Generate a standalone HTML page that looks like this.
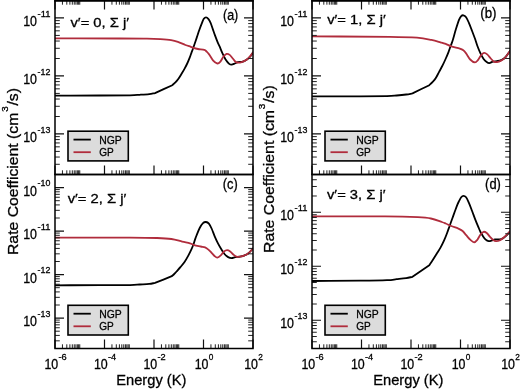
<!DOCTYPE html><html><head><meta charset="utf-8"><style>html,body{margin:0;padding:0;background:#fff;}svg{display:block;will-change:transform;}</style></head><body>
<svg width="520" height="389" viewBox="0 0 520 389" font-family='"Liberation Sans", sans-serif'>
<style>text{stroke:#000;stroke-width:0.3px;paint-order:stroke;}</style>
<rect x="0" y="0" width="520" height="389" fill="#fff"/>
<clipPath id="cpa"><rect x="55" y="0.5" width="198" height="174.0"/></clipPath>
<clipPath id="cpb"><rect x="312" y="0.5" width="198" height="174.0"/></clipPath>
<clipPath id="cpc"><rect x="55" y="174.5" width="198" height="174.0"/></clipPath>
<clipPath id="cpd"><rect x="312" y="174.5" width="198" height="174.0"/></clipPath>
<g clip-path="url(#cpa)" fill="none" stroke-width="1.8" stroke-linejoin="round" stroke-linecap="round">
<path d="M55.00,95.60 C70.00,95.57 87.50,95.55 100.00,95.50 C112.50,95.45 123.40,95.42 130.00,95.30 C136.60,95.18 136.40,95.00 139.60,94.80 C142.80,94.60 146.63,94.38 149.20,94.10 C151.77,93.82 153.07,93.43 155.00,93.10 C160.77,90.47 166.53,87.83 172.30,85.20 C173.33,84.27 174.38,83.48 175.40,82.40 C176.43,81.33 177.42,80.18 178.45,78.75 C179.48,77.32 180.55,75.52 181.60,73.80 C182.65,72.08 183.78,70.20 184.75,68.40 C185.72,66.60 186.62,64.80 187.45,63.00 C188.27,61.20 189.02,59.33 189.70,57.60 C190.38,55.88 190.90,54.30 191.50,52.65 C192.10,51.00 192.45,50.12 193.30,47.70 C194.15,45.28 195.60,41.05 196.60,38.10 C197.60,35.15 198.40,32.55 199.30,30.00 C200.20,27.45 201.25,24.67 202.00,22.80 C202.75,20.93 203.13,19.70 203.80,18.80 C204.47,17.90 205.25,17.40 206.00,17.40 C206.75,17.40 207.53,17.90 208.30,18.80 C209.07,19.70 209.85,21.08 210.60,22.80 C211.35,24.52 212.07,27.00 212.80,29.10 C213.53,31.20 214.17,33.15 215.00,35.40 C215.83,37.65 217.03,40.77 217.80,42.60 C218.57,44.43 218.82,44.60 219.60,46.40 C220.38,48.20 221.50,51.22 222.50,53.40 C223.50,55.58 224.48,57.75 225.60,59.50 C226.72,61.25 228.18,63.03 229.20,63.90 C230.22,64.77 230.77,64.77 231.70,64.70 C232.63,64.63 233.77,63.93 234.80,63.50 C235.83,63.07 236.70,62.38 237.90,62.10 C239.10,61.82 240.62,62.15 242.00,61.80 C243.38,61.45 244.82,60.88 246.20,60.00 C247.58,59.12 249.17,57.75 250.30,56.50 C251.43,55.25 252.10,53.83 253.00,52.50" stroke="#000"/>
<path d="M55.00,38.30 C76.67,38.37 104.68,38.43 120.00,38.50 C135.32,38.57 140.17,38.58 146.90,38.70 C153.63,38.82 156.37,38.97 160.40,39.20 C164.43,39.43 168.18,39.67 171.10,40.10 C174.02,40.53 175.52,40.98 177.90,41.80 C180.28,42.62 183.25,44.17 185.40,45.00 C187.55,45.83 189.45,46.32 190.80,46.80 C192.15,47.28 192.30,47.53 193.50,47.90 C194.70,48.27 196.20,48.68 198.00,49.00 C199.80,49.32 202.88,49.38 204.30,49.80 C205.72,50.22 205.70,50.73 206.50,51.50 C207.30,52.27 207.98,52.88 209.10,54.40 C210.22,55.92 211.83,59.08 213.20,60.60 C214.57,62.12 216.10,63.33 217.30,63.50 C218.50,63.67 219.37,62.77 220.40,61.60 C221.43,60.43 222.47,57.78 223.50,56.50 C224.53,55.22 225.57,54.17 226.60,53.90 C227.63,53.63 228.67,54.13 229.70,54.90 C230.73,55.67 231.77,57.30 232.80,58.50 C233.83,59.70 234.70,61.42 235.90,62.10 C237.10,62.78 238.63,62.77 240.00,62.60 C241.37,62.43 242.73,61.78 244.10,61.10 C245.47,60.42 246.72,59.93 248.20,58.50 C249.68,57.07 251.40,54.50 253.00,52.50" stroke="#b02c3c"/>
</g>
<g clip-path="url(#cpb)" fill="none" stroke-width="1.8" stroke-linejoin="round" stroke-linecap="round">
<path d="M312.00,96.40 C328.00,96.37 347.50,96.35 360.00,96.30 C372.50,96.25 380.90,96.23 387.00,96.10 C393.10,95.97 393.40,95.77 396.60,95.50 C399.80,95.23 403.55,94.85 406.20,94.50 C408.85,94.15 410.40,93.77 412.50,93.40 C418.10,90.67 423.70,87.93 429.30,85.20 C430.33,84.20 431.37,83.30 432.40,82.20 C433.43,81.10 434.38,80.32 435.50,78.60 C436.62,76.88 437.90,74.13 439.10,71.90 C440.30,69.67 441.58,67.43 442.70,65.20 C443.82,62.97 444.85,60.65 445.80,58.50 C446.75,56.35 447.63,54.27 448.40,52.30 C449.17,50.33 449.72,48.58 450.40,46.70 C451.08,44.82 451.60,43.85 452.50,41.00 C453.40,38.15 454.72,33.12 455.80,29.60 C456.88,26.08 458.10,22.15 459.00,19.90 C459.90,17.65 460.47,16.87 461.20,16.10 C461.93,15.33 462.58,15.12 463.40,15.30 C464.22,15.48 465.20,15.98 466.10,17.20 C467.00,18.42 467.82,20.35 468.80,22.60 C469.78,24.85 470.93,27.92 472.00,30.70 C473.07,33.48 474.27,36.67 475.20,39.30 C476.13,41.93 476.72,44.15 477.60,46.50 C478.48,48.85 479.50,51.32 480.50,53.40 C481.50,55.48 482.57,57.55 483.60,59.00 C484.63,60.45 485.75,61.42 486.70,62.10 C487.65,62.78 488.27,63.18 489.30,63.10 C490.33,63.02 491.62,61.93 492.90,61.60 C494.18,61.27 495.63,61.35 497.00,61.10 C498.37,60.85 499.73,60.70 501.10,60.10 C502.47,59.50 503.72,59.02 505.20,57.50 C506.68,55.98 508.40,53.17 510.00,51.00" stroke="#000"/>
<path d="M312.00,36.40 C338.00,36.53 372.50,36.58 390.00,36.80 C407.50,37.02 410.10,37.18 417.00,37.70 C423.90,38.22 427.48,39.13 431.40,39.90 C435.32,40.67 438.12,41.63 440.50,42.30 C442.88,42.97 443.90,43.22 445.70,43.90 C447.50,44.58 448.95,45.62 451.30,46.40 C453.65,47.18 457.80,47.95 459.80,48.60 C461.80,49.25 462.25,49.50 463.30,50.30 C464.35,51.10 464.95,51.87 466.10,53.40 C467.25,54.93 468.73,58.00 470.20,59.50 C471.67,61.00 473.62,62.30 474.90,62.40 C476.18,62.50 476.88,61.27 477.90,60.10 C478.92,58.93 479.97,56.60 481.00,55.40 C482.03,54.20 483.07,53.07 484.10,52.90 C485.13,52.73 486.08,53.47 487.20,54.40 C488.32,55.33 489.68,57.30 490.80,58.50 C491.92,59.70 492.87,61.00 493.90,61.60 C494.93,62.20 495.80,62.27 497.00,62.10 C498.20,61.93 499.73,61.37 501.10,60.60 C502.47,59.83 503.72,59.10 505.20,57.50 C506.68,55.90 508.40,53.17 510.00,51.00" stroke="#b02c3c"/>
</g>
<g clip-path="url(#cpc)" fill="none" stroke-width="1.8" stroke-linejoin="round" stroke-linecap="round">
<path d="M55.00,285.30 C70.00,285.27 87.50,285.23 100.00,285.20 C112.50,285.17 123.40,285.22 130.00,285.10 C136.60,284.98 136.40,284.70 139.60,284.50 C142.80,284.30 146.63,284.17 149.20,283.90 C151.77,283.63 153.07,283.23 155.00,282.90 C160.60,280.67 166.20,278.43 171.80,276.20 C172.60,275.47 173.42,274.78 174.20,274.00 C174.98,273.22 175.43,272.68 176.50,271.50 C177.57,270.32 179.23,268.53 180.60,266.90 C181.97,265.27 183.42,263.58 184.70,261.70 C185.98,259.82 187.18,257.65 188.30,255.60 C189.42,253.55 190.53,251.28 191.40,249.40 C192.27,247.52 192.90,245.93 193.50,244.30 C194.10,242.67 194.50,241.07 195.00,239.60 C195.50,238.13 195.72,237.43 196.50,235.50 C197.28,233.57 198.62,230.07 199.70,228.00 C200.78,225.93 201.95,224.10 203.00,223.10 C204.05,222.10 205.02,221.92 206.00,222.00 C206.98,222.08 207.97,222.52 208.90,223.60 C209.83,224.68 210.62,226.33 211.60,228.50 C212.58,230.67 213.72,234.08 214.80,236.60 C215.88,239.12 216.98,241.45 218.10,243.60 C219.22,245.75 220.43,247.77 221.50,249.50 C222.57,251.23 223.40,252.73 224.50,254.00 C225.60,255.27 226.90,256.42 228.10,257.10 C229.30,257.78 230.50,258.10 231.70,258.10 C232.90,258.10 233.92,257.35 235.30,257.10 C236.68,256.85 238.53,256.85 240.00,256.60 C241.47,256.35 242.73,256.12 244.10,255.60 C245.47,255.08 246.72,254.68 248.20,253.50 C249.68,252.32 251.40,250.17 253.00,248.50" stroke="#000"/>
<path d="M55.00,237.60 C80.00,237.60 113.00,237.53 130.00,237.60 C147.00,237.67 150.10,237.77 157.00,238.00 C163.90,238.23 167.20,238.40 171.40,239.00 C175.60,239.60 179.10,240.88 182.20,241.60 C185.30,242.32 187.98,242.70 190.00,243.30 C192.02,243.90 192.50,244.67 194.30,245.20 C196.10,245.73 199.00,246.13 200.80,246.50 C202.60,246.87 203.83,246.88 205.10,247.40 C206.37,247.92 207.32,248.70 208.40,249.60 C209.48,250.50 210.58,251.73 211.60,252.80 C212.62,253.87 213.55,255.20 214.50,256.00 C215.45,256.80 216.22,257.75 217.30,257.60 C218.38,257.45 219.88,256.12 221.00,255.10 C222.12,254.08 222.98,252.32 224.00,251.50 C225.02,250.68 226.07,250.20 227.10,250.20 C228.13,250.20 229.17,250.78 230.20,251.50 C231.23,252.22 232.27,253.65 233.30,254.50 C234.33,255.35 235.28,256.25 236.40,256.60 C237.52,256.95 238.72,256.77 240.00,256.60 C241.28,256.43 242.73,256.12 244.10,255.60 C245.47,255.08 246.72,254.68 248.20,253.50 C249.68,252.32 251.40,250.17 253.00,248.50" stroke="#b02c3c"/>
</g>
<g clip-path="url(#cpd)" fill="none" stroke-width="1.8" stroke-linejoin="round" stroke-linecap="round">
<path d="M312.00,281.00 C328.00,280.90 347.50,280.83 360.00,280.70 C372.50,280.57 380.90,280.45 387.00,280.20 C393.10,279.95 393.40,279.55 396.60,279.20 C399.80,278.85 403.55,278.50 406.20,278.10 C408.85,277.70 410.40,277.23 412.50,276.80 C418.10,272.97 423.70,269.13 429.30,265.30 C430.40,263.63 431.35,262.25 432.60,260.30 C433.85,258.35 435.48,255.72 436.80,253.60 C438.12,251.48 439.28,249.80 440.50,247.60 C441.72,245.40 443.00,242.83 444.10,240.40 C445.20,237.97 446.17,235.45 447.10,233.00 C448.03,230.55 448.83,228.12 449.70,225.70 C450.57,223.28 451.43,220.90 452.30,218.50 C453.17,216.10 454.05,213.62 454.90,211.30 C455.75,208.98 456.72,206.28 457.40,204.60 C458.08,202.92 458.37,202.43 459.00,201.20 C459.63,199.97 460.47,198.10 461.20,197.20 C461.93,196.30 462.58,195.80 463.40,195.80 C464.22,195.80 465.20,196.07 466.10,197.20 C467.00,198.33 467.82,200.35 468.80,202.60 C469.78,204.85 470.93,207.92 472.00,210.70 C473.07,213.48 474.12,216.52 475.20,219.30 C476.28,222.08 477.62,225.28 478.50,227.40 C479.38,229.52 479.82,230.63 480.50,232.00 C481.18,233.37 481.73,234.32 482.60,235.60 C483.47,236.88 484.68,238.77 485.70,239.70 C486.72,240.63 487.68,241.07 488.70,241.20 C489.72,241.33 490.77,240.78 491.80,240.50 C492.83,240.22 493.87,239.67 494.90,239.50 C495.93,239.33 496.97,239.55 498.00,239.50 C499.03,239.45 499.90,239.68 501.10,239.20 C502.30,238.72 503.72,237.88 505.20,236.60 C506.68,235.32 508.40,233.20 510.00,231.50" stroke="#000"/>
<path d="M312.00,216.40 C336.33,216.40 367.37,216.27 385.00,216.40 C402.63,216.53 410.15,216.85 417.80,217.20 C425.45,217.55 426.90,217.70 430.90,218.50 C434.90,219.30 439.33,221.17 441.80,222.00 C444.27,222.83 444.12,222.83 445.70,223.50 C447.28,224.17 449.18,225.15 451.30,226.00 C453.42,226.85 456.52,227.77 458.40,228.60 C460.28,229.43 461.30,229.90 462.60,231.00 C463.90,232.10 464.93,233.75 466.20,235.20 C467.47,236.65 468.88,238.52 470.20,239.70 C471.52,240.88 472.90,242.30 474.10,242.30 C475.30,242.30 476.33,241.00 477.40,239.70 C478.47,238.40 479.47,235.82 480.50,234.50 C481.53,233.18 482.57,232.05 483.60,231.80 C484.63,231.55 485.67,232.20 486.70,233.00 C487.73,233.80 488.77,235.48 489.80,236.60 C490.83,237.72 491.87,238.93 492.90,239.70 C493.93,240.47 494.80,241.12 496.00,241.20 C497.20,241.28 498.73,240.88 500.10,240.20 C501.47,239.52 502.55,238.55 504.20,237.10 C505.85,235.65 508.07,233.37 510.00,231.50" stroke="#b02c3c"/>
</g>
<path d="M55.00,174.5V165.5 M55.00,0.5V9.5 M104.50,174.5V165.5 M104.50,0.5V9.5 M154.00,174.5V165.5 M154.00,0.5V9.5 M203.50,174.5V165.5 M203.50,0.5V9.5 M253.00,174.5V165.5 M253.00,0.5V9.5 M55,133.96H64 M253,133.96H244 M55,75.96H64 M253,75.96H244 M55,17.96H64 M253,17.96H244 M312.00,174.5V165.5 M312.00,0.5V9.5 M361.50,174.5V165.5 M361.50,0.5V9.5 M411.00,174.5V165.5 M411.00,0.5V9.5 M460.50,174.5V165.5 M460.50,0.5V9.5 M510.00,174.5V165.5 M510.00,0.5V9.5 M312,133.96H321 M510,133.96H501 M312,75.96H321 M510,75.96H501 M312,17.96H321 M510,17.96H501 M55.00,348.5V339.5 M104.50,348.5V339.5 M154.00,348.5V339.5 M203.50,348.5V339.5 M253.00,348.5V339.5 M55,318.09H64 M253,318.09H244 M55,274.59H64 M253,274.59H244 M55,231.09H64 M253,231.09H244 M55,187.59H64 M253,187.59H244 M312.00,348.5V339.5 M361.50,348.5V339.5 M411.00,348.5V339.5 M460.50,348.5V339.5 M510.00,348.5V339.5 M312,320.26H321 M510,320.26H501 M312,266.26H321 M510,266.26H501 M312,212.25H321 M510,212.25H501" stroke="#111" stroke-width="1.2" fill="none"/>
<path d="M62.45,174.5V170.3 M62.45,0.5V4.7 M66.81,174.5V170.3 M66.81,0.5V4.7 M69.90,174.5V170.3 M69.90,0.5V4.7 M72.30,174.5V170.3 M72.30,0.5V4.7 M74.26,174.5V170.3 M74.26,0.5V4.7 M75.92,174.5V170.3 M75.92,0.5V4.7 M77.35,174.5V170.3 M77.35,0.5V4.7 M78.62,174.5V170.3 M78.62,0.5V4.7 M79.75,174.5V170.3 M79.75,0.5V4.7 M111.95,174.5V170.3 M111.95,0.5V4.7 M116.31,174.5V170.3 M116.31,0.5V4.7 M119.40,174.5V170.3 M119.40,0.5V4.7 M121.80,174.5V170.3 M121.80,0.5V4.7 M123.76,174.5V170.3 M123.76,0.5V4.7 M125.42,174.5V170.3 M125.42,0.5V4.7 M126.85,174.5V170.3 M126.85,0.5V4.7 M128.12,174.5V170.3 M128.12,0.5V4.7 M129.25,174.5V170.3 M129.25,0.5V4.7 M161.45,174.5V170.3 M161.45,0.5V4.7 M165.81,174.5V170.3 M165.81,0.5V4.7 M168.90,174.5V170.3 M168.90,0.5V4.7 M171.30,174.5V170.3 M171.30,0.5V4.7 M173.26,174.5V170.3 M173.26,0.5V4.7 M174.92,174.5V170.3 M174.92,0.5V4.7 M176.35,174.5V170.3 M176.35,0.5V4.7 M177.62,174.5V170.3 M177.62,0.5V4.7 M178.75,174.5V170.3 M178.75,0.5V4.7 M210.95,174.5V170.3 M210.95,0.5V4.7 M215.31,174.5V170.3 M215.31,0.5V4.7 M218.40,174.5V170.3 M218.40,0.5V4.7 M220.80,174.5V170.3 M220.80,0.5V4.7 M222.76,174.5V170.3 M222.76,0.5V4.7 M224.42,174.5V170.3 M224.42,0.5V4.7 M225.85,174.5V170.3 M225.85,0.5V4.7 M227.12,174.5V170.3 M227.12,0.5V4.7 M228.25,174.5V170.3 M228.25,0.5V4.7 M55,174.50H59.8 M253,174.50H248.2 M55,164.29H59.8 M253,164.29H248.2 M55,157.04H59.8 M253,157.04H248.2 M55,151.42H59.8 M253,151.42H248.2 M55,146.83H59.8 M253,146.83H248.2 M55,142.94H59.8 M253,142.94H248.2 M55,139.58H59.8 M253,139.58H248.2 M55,136.61H59.8 M253,136.61H248.2 M55,116.50H59.8 M253,116.50H248.2 M55,106.29H59.8 M253,106.29H248.2 M55,99.04H59.8 M253,99.04H248.2 M55,93.42H59.8 M253,93.42H248.2 M55,88.83H59.8 M253,88.83H248.2 M55,84.94H59.8 M253,84.94H248.2 M55,81.58H59.8 M253,81.58H248.2 M55,78.61H59.8 M253,78.61H248.2 M55,58.50H59.8 M253,58.50H248.2 M55,48.29H59.8 M253,48.29H248.2 M55,41.04H59.8 M253,41.04H248.2 M55,35.42H59.8 M253,35.42H248.2 M55,30.83H59.8 M253,30.83H248.2 M55,26.94H59.8 M253,26.94H248.2 M55,23.58H59.8 M253,23.58H248.2 M55,20.61H59.8 M253,20.61H248.2 M55,0.50H59.8 M253,0.50H248.2 M319.45,174.5V170.3 M319.45,0.5V4.7 M323.81,174.5V170.3 M323.81,0.5V4.7 M326.90,174.5V170.3 M326.90,0.5V4.7 M329.30,174.5V170.3 M329.30,0.5V4.7 M331.26,174.5V170.3 M331.26,0.5V4.7 M332.92,174.5V170.3 M332.92,0.5V4.7 M334.35,174.5V170.3 M334.35,0.5V4.7 M335.62,174.5V170.3 M335.62,0.5V4.7 M336.75,174.5V170.3 M336.75,0.5V4.7 M368.95,174.5V170.3 M368.95,0.5V4.7 M373.31,174.5V170.3 M373.31,0.5V4.7 M376.40,174.5V170.3 M376.40,0.5V4.7 M378.80,174.5V170.3 M378.80,0.5V4.7 M380.76,174.5V170.3 M380.76,0.5V4.7 M382.42,174.5V170.3 M382.42,0.5V4.7 M383.85,174.5V170.3 M383.85,0.5V4.7 M385.12,174.5V170.3 M385.12,0.5V4.7 M386.25,174.5V170.3 M386.25,0.5V4.7 M418.45,174.5V170.3 M418.45,0.5V4.7 M422.81,174.5V170.3 M422.81,0.5V4.7 M425.90,174.5V170.3 M425.90,0.5V4.7 M428.30,174.5V170.3 M428.30,0.5V4.7 M430.26,174.5V170.3 M430.26,0.5V4.7 M431.92,174.5V170.3 M431.92,0.5V4.7 M433.35,174.5V170.3 M433.35,0.5V4.7 M434.62,174.5V170.3 M434.62,0.5V4.7 M435.75,174.5V170.3 M435.75,0.5V4.7 M467.95,174.5V170.3 M467.95,0.5V4.7 M472.31,174.5V170.3 M472.31,0.5V4.7 M475.40,174.5V170.3 M475.40,0.5V4.7 M477.80,174.5V170.3 M477.80,0.5V4.7 M479.76,174.5V170.3 M479.76,0.5V4.7 M481.42,174.5V170.3 M481.42,0.5V4.7 M482.85,174.5V170.3 M482.85,0.5V4.7 M484.12,174.5V170.3 M484.12,0.5V4.7 M485.25,174.5V170.3 M485.25,0.5V4.7 M312,174.50H316.8 M510,174.50H505.2 M312,164.29H316.8 M510,164.29H505.2 M312,157.04H316.8 M510,157.04H505.2 M312,151.42H316.8 M510,151.42H505.2 M312,146.83H316.8 M510,146.83H505.2 M312,142.94H316.8 M510,142.94H505.2 M312,139.58H316.8 M510,139.58H505.2 M312,136.61H316.8 M510,136.61H505.2 M312,116.50H316.8 M510,116.50H505.2 M312,106.29H316.8 M510,106.29H505.2 M312,99.04H316.8 M510,99.04H505.2 M312,93.42H316.8 M510,93.42H505.2 M312,88.83H316.8 M510,88.83H505.2 M312,84.94H316.8 M510,84.94H505.2 M312,81.58H316.8 M510,81.58H505.2 M312,78.61H316.8 M510,78.61H505.2 M312,58.50H316.8 M510,58.50H505.2 M312,48.29H316.8 M510,48.29H505.2 M312,41.04H316.8 M510,41.04H505.2 M312,35.42H316.8 M510,35.42H505.2 M312,30.83H316.8 M510,30.83H505.2 M312,26.94H316.8 M510,26.94H505.2 M312,23.58H316.8 M510,23.58H505.2 M312,20.61H316.8 M510,20.61H505.2 M312,0.50H316.8 M510,0.50H505.2 M62.45,348.5V344.3 M66.81,348.5V344.3 M69.90,348.5V344.3 M72.30,348.5V344.3 M74.26,348.5V344.3 M75.92,348.5V344.3 M77.35,348.5V344.3 M78.62,348.5V344.3 M79.75,348.5V344.3 M111.95,348.5V344.3 M116.31,348.5V344.3 M119.40,348.5V344.3 M121.80,348.5V344.3 M123.76,348.5V344.3 M125.42,348.5V344.3 M126.85,348.5V344.3 M128.12,348.5V344.3 M129.25,348.5V344.3 M161.45,348.5V344.3 M165.81,348.5V344.3 M168.90,348.5V344.3 M171.30,348.5V344.3 M173.26,348.5V344.3 M174.92,348.5V344.3 M176.35,348.5V344.3 M177.62,348.5V344.3 M178.75,348.5V344.3 M210.95,348.5V344.3 M215.31,348.5V344.3 M218.40,348.5V344.3 M220.80,348.5V344.3 M222.76,348.5V344.3 M224.42,348.5V344.3 M225.85,348.5V344.3 M227.12,348.5V344.3 M228.25,348.5V344.3 M55,348.50H59.8 M253,348.50H248.2 M55,340.84H59.8 M253,340.84H248.2 M55,335.41H59.8 M253,335.41H248.2 M55,331.19H59.8 M253,331.19H248.2 M55,327.75H59.8 M253,327.75H248.2 M55,324.83H59.8 M253,324.83H248.2 M55,322.31H59.8 M253,322.31H248.2 M55,320.09H59.8 M253,320.09H248.2 M55,305.00H59.8 M253,305.00H248.2 M55,297.34H59.8 M253,297.34H248.2 M55,291.91H59.8 M253,291.91H248.2 M55,287.69H59.8 M253,287.69H248.2 M55,284.25H59.8 M253,284.25H248.2 M55,281.33H59.8 M253,281.33H248.2 M55,278.81H59.8 M253,278.81H248.2 M55,276.59H59.8 M253,276.59H248.2 M55,261.50H59.8 M253,261.50H248.2 M55,253.84H59.8 M253,253.84H248.2 M55,248.41H59.8 M253,248.41H248.2 M55,244.19H59.8 M253,244.19H248.2 M55,240.75H59.8 M253,240.75H248.2 M55,237.83H59.8 M253,237.83H248.2 M55,235.31H59.8 M253,235.31H248.2 M55,233.09H59.8 M253,233.09H248.2 M55,218.00H59.8 M253,218.00H248.2 M55,210.34H59.8 M253,210.34H248.2 M55,204.91H59.8 M253,204.91H248.2 M55,200.69H59.8 M253,200.69H248.2 M55,197.25H59.8 M253,197.25H248.2 M55,194.33H59.8 M253,194.33H248.2 M55,191.81H59.8 M253,191.81H248.2 M55,189.59H59.8 M253,189.59H248.2 M55,174.50H59.8 M253,174.50H248.2 M319.45,348.5V344.3 M323.81,348.5V344.3 M326.90,348.5V344.3 M329.30,348.5V344.3 M331.26,348.5V344.3 M332.92,348.5V344.3 M334.35,348.5V344.3 M335.62,348.5V344.3 M336.75,348.5V344.3 M368.95,348.5V344.3 M373.31,348.5V344.3 M376.40,348.5V344.3 M378.80,348.5V344.3 M380.76,348.5V344.3 M382.42,348.5V344.3 M383.85,348.5V344.3 M385.12,348.5V344.3 M386.25,348.5V344.3 M418.45,348.5V344.3 M422.81,348.5V344.3 M425.90,348.5V344.3 M428.30,348.5V344.3 M430.26,348.5V344.3 M431.92,348.5V344.3 M433.35,348.5V344.3 M434.62,348.5V344.3 M435.75,348.5V344.3 M467.95,348.5V344.3 M472.31,348.5V344.3 M475.40,348.5V344.3 M477.80,348.5V344.3 M479.76,348.5V344.3 M481.42,348.5V344.3 M482.85,348.5V344.3 M484.12,348.5V344.3 M485.25,348.5V344.3 M312,348.50H316.8 M510,348.50H505.2 M312,341.75H316.8 M510,341.75H505.2 M312,336.52H316.8 M510,336.52H505.2 M312,332.24H316.8 M510,332.24H505.2 M312,328.63H316.8 M510,328.63H505.2 M312,325.50H316.8 M510,325.50H505.2 M312,322.73H316.8 M510,322.73H505.2 M312,304.00H316.8 M510,304.00H505.2 M312,294.49H316.8 M510,294.49H505.2 M312,287.75H316.8 M510,287.75H505.2 M312,282.51H316.8 M510,282.51H505.2 M312,278.24H316.8 M510,278.24H505.2 M312,274.62H316.8 M510,274.62H505.2 M312,271.49H316.8 M510,271.49H505.2 M312,268.73H316.8 M510,268.73H505.2 M312,250.00H316.8 M510,250.00H505.2 M312,240.49H316.8 M510,240.49H505.2 M312,233.74H316.8 M510,233.74H505.2 M312,228.51H316.8 M510,228.51H505.2 M312,224.23H316.8 M510,224.23H505.2 M312,220.61H316.8 M510,220.61H505.2 M312,217.48H316.8 M510,217.48H505.2 M312,214.72H316.8 M510,214.72H505.2 M312,195.99H316.8 M510,195.99H505.2 M312,186.48H316.8 M510,186.48H505.2 M312,179.73H316.8 M510,179.73H505.2 M312,174.50H316.8 M510,174.50H505.2" stroke="#222" stroke-width="1.0" fill="none"/>
<rect x="55" y="0.5" width="198" height="174.0" fill="none" stroke="#000" stroke-width="1.5"/>
<rect x="312" y="0.5" width="198" height="174.0" fill="none" stroke="#000" stroke-width="1.5"/>
<rect x="55" y="174.5" width="198" height="174.0" fill="none" stroke="#000" stroke-width="1.5"/>
<rect x="312" y="174.5" width="198" height="174.0" fill="none" stroke="#000" stroke-width="1.5"/>
<rect x="54.25" y="0" width="199.5" height="1.7" fill="#000"/><rect x="311.25" y="0" width="199.5" height="1.7" fill="#000"/>
<rect x="68" y="131.2" width="60.3" height="29.7" fill="#dcdcdc" stroke="#000" stroke-width="1.6"/>
<path d="M73.5,139.6H90.8" stroke="#000" stroke-width="1.8"/>
<path d="M73.5,152.2H90.8" stroke="#b02c3c" stroke-width="1.8"/>
<text x="99.3" y="143.79999999999998" font-size="11.8" textLength="22.5" lengthAdjust="spacingAndGlyphs">NGP</text>
<text x="99.3" y="156.2" font-size="11.8" textLength="14.5" lengthAdjust="spacingAndGlyphs">GP</text>
<rect x="325" y="131.2" width="60.3" height="29.7" fill="#dcdcdc" stroke="#000" stroke-width="1.6"/>
<path d="M330.5,139.6H347.8" stroke="#000" stroke-width="1.8"/>
<path d="M330.5,152.2H347.8" stroke="#b02c3c" stroke-width="1.8"/>
<text x="356.3" y="143.79999999999998" font-size="11.8" textLength="22.5" lengthAdjust="spacingAndGlyphs">NGP</text>
<text x="356.3" y="156.2" font-size="11.8" textLength="14.5" lengthAdjust="spacingAndGlyphs">GP</text>
<rect x="68" y="305.3" width="60.3" height="29.7" fill="#dcdcdc" stroke="#000" stroke-width="1.6"/>
<path d="M73.5,313.7H90.8" stroke="#000" stroke-width="1.8"/>
<path d="M73.5,326.3H90.8" stroke="#b02c3c" stroke-width="1.8"/>
<text x="99.3" y="317.90000000000003" font-size="11.8" textLength="22.5" lengthAdjust="spacingAndGlyphs">NGP</text>
<text x="99.3" y="330.3" font-size="11.8" textLength="14.5" lengthAdjust="spacingAndGlyphs">GP</text>
<rect x="325" y="305.3" width="60.3" height="29.7" fill="#dcdcdc" stroke="#000" stroke-width="1.6"/>
<path d="M330.5,313.7H347.8" stroke="#000" stroke-width="1.8"/>
<path d="M330.5,326.3H347.8" stroke="#b02c3c" stroke-width="1.8"/>
<text x="356.3" y="317.90000000000003" font-size="11.8" textLength="22.5" lengthAdjust="spacingAndGlyphs">NGP</text>
<text x="356.3" y="330.3" font-size="11.8" textLength="14.5" lengthAdjust="spacingAndGlyphs">GP</text>
<text x="50.4" y="16.66" font-size="9.4" text-anchor="end" textLength="12.8" lengthAdjust="spacingAndGlyphs">-11</text>
<text x="37.00" y="26.06" font-size="14.2" text-anchor="end" textLength="13.8" lengthAdjust="spacingAndGlyphs">10</text>
<text x="50.4" y="74.66" font-size="9.4" text-anchor="end" textLength="12.8" lengthAdjust="spacingAndGlyphs">-12</text>
<text x="37.00" y="84.06" font-size="14.2" text-anchor="end" textLength="13.8" lengthAdjust="spacingAndGlyphs">10</text>
<text x="50.4" y="132.66" font-size="9.4" text-anchor="end" textLength="12.8" lengthAdjust="spacingAndGlyphs">-13</text>
<text x="37.00" y="142.06" font-size="14.2" text-anchor="end" textLength="13.8" lengthAdjust="spacingAndGlyphs">10</text>
<text x="307.4" y="16.66" font-size="9.4" text-anchor="end" textLength="12.8" lengthAdjust="spacingAndGlyphs">-11</text>
<text x="294.00" y="26.06" font-size="14.2" text-anchor="end" textLength="13.8" lengthAdjust="spacingAndGlyphs">10</text>
<text x="307.4" y="74.66" font-size="9.4" text-anchor="end" textLength="12.8" lengthAdjust="spacingAndGlyphs">-12</text>
<text x="294.00" y="84.06" font-size="14.2" text-anchor="end" textLength="13.8" lengthAdjust="spacingAndGlyphs">10</text>
<text x="307.4" y="132.66" font-size="9.4" text-anchor="end" textLength="12.8" lengthAdjust="spacingAndGlyphs">-13</text>
<text x="294.00" y="142.06" font-size="14.2" text-anchor="end" textLength="13.8" lengthAdjust="spacingAndGlyphs">10</text>
<text x="50.4" y="186.29" font-size="9.4" text-anchor="end" textLength="12.8" lengthAdjust="spacingAndGlyphs">-10</text>
<text x="37.00" y="195.69" font-size="14.2" text-anchor="end" textLength="13.8" lengthAdjust="spacingAndGlyphs">10</text>
<text x="50.4" y="229.79" font-size="9.4" text-anchor="end" textLength="12.8" lengthAdjust="spacingAndGlyphs">-11</text>
<text x="37.00" y="239.19" font-size="14.2" text-anchor="end" textLength="13.8" lengthAdjust="spacingAndGlyphs">10</text>
<text x="50.4" y="273.29" font-size="9.4" text-anchor="end" textLength="12.8" lengthAdjust="spacingAndGlyphs">-12</text>
<text x="37.00" y="282.69" font-size="14.2" text-anchor="end" textLength="13.8" lengthAdjust="spacingAndGlyphs">10</text>
<text x="50.4" y="316.79" font-size="9.4" text-anchor="end" textLength="12.8" lengthAdjust="spacingAndGlyphs">-13</text>
<text x="37.00" y="326.19" font-size="14.2" text-anchor="end" textLength="13.8" lengthAdjust="spacingAndGlyphs">10</text>
<text x="307.4" y="210.95" font-size="9.4" text-anchor="end" textLength="12.8" lengthAdjust="spacingAndGlyphs">-11</text>
<text x="294.00" y="220.35" font-size="14.2" text-anchor="end" textLength="13.8" lengthAdjust="spacingAndGlyphs">10</text>
<text x="307.4" y="264.96" font-size="9.4" text-anchor="end" textLength="12.8" lengthAdjust="spacingAndGlyphs">-12</text>
<text x="294.00" y="274.36" font-size="14.2" text-anchor="end" textLength="13.8" lengthAdjust="spacingAndGlyphs">10</text>
<text x="307.4" y="318.96" font-size="9.4" text-anchor="end" textLength="12.8" lengthAdjust="spacingAndGlyphs">-13</text>
<text x="294.00" y="328.36" font-size="14.2" text-anchor="end" textLength="13.8" lengthAdjust="spacingAndGlyphs">10</text>
<text x="44.40" y="369.2" font-size="14.2" textLength="13.8" lengthAdjust="spacingAndGlyphs">10</text>
<text x="58.40" y="360.3" font-size="9.4" textLength="8.2" lengthAdjust="spacingAndGlyphs">-6</text>
<text x="93.90" y="369.2" font-size="14.2" textLength="13.8" lengthAdjust="spacingAndGlyphs">10</text>
<text x="107.90" y="360.3" font-size="9.4" textLength="8.2" lengthAdjust="spacingAndGlyphs">-4</text>
<text x="143.40" y="369.2" font-size="14.2" textLength="13.8" lengthAdjust="spacingAndGlyphs">10</text>
<text x="157.40" y="360.3" font-size="9.4" textLength="8.2" lengthAdjust="spacingAndGlyphs">-2</text>
<text x="194.70" y="369.2" font-size="14.2" textLength="13.8" lengthAdjust="spacingAndGlyphs">10</text>
<text x="208.70" y="360.3" font-size="9.4" textLength="4.6" lengthAdjust="spacingAndGlyphs">0</text>
<text x="244.20" y="369.2" font-size="14.2" textLength="13.8" lengthAdjust="spacingAndGlyphs">10</text>
<text x="258.20" y="360.3" font-size="9.4" textLength="4.6" lengthAdjust="spacingAndGlyphs">2</text>
<text x="116.20" y="384.6" font-size="15.2" textLength="70.2" lengthAdjust="spacingAndGlyphs">Energy (K)</text>
<text x="301.40" y="369.2" font-size="14.2" textLength="13.8" lengthAdjust="spacingAndGlyphs">10</text>
<text x="315.40" y="360.3" font-size="9.4" textLength="8.2" lengthAdjust="spacingAndGlyphs">-6</text>
<text x="350.90" y="369.2" font-size="14.2" textLength="13.8" lengthAdjust="spacingAndGlyphs">10</text>
<text x="364.90" y="360.3" font-size="9.4" textLength="8.2" lengthAdjust="spacingAndGlyphs">-4</text>
<text x="400.40" y="369.2" font-size="14.2" textLength="13.8" lengthAdjust="spacingAndGlyphs">10</text>
<text x="414.40" y="360.3" font-size="9.4" textLength="8.2" lengthAdjust="spacingAndGlyphs">-2</text>
<text x="451.70" y="369.2" font-size="14.2" textLength="13.8" lengthAdjust="spacingAndGlyphs">10</text>
<text x="465.70" y="360.3" font-size="9.4" textLength="4.6" lengthAdjust="spacingAndGlyphs">0</text>
<text x="501.20" y="369.2" font-size="14.2" textLength="13.8" lengthAdjust="spacingAndGlyphs">10</text>
<text x="515.20" y="360.3" font-size="9.4" textLength="4.6" lengthAdjust="spacingAndGlyphs">2</text>
<text x="373.20" y="384.6" font-size="15.2" textLength="70.2" lengthAdjust="spacingAndGlyphs">Energy (K)</text>
<text transform="translate(17.6,255) rotate(-90)" font-size="15.2" textLength="167" lengthAdjust="spacingAndGlyphs">Rate Coefficient (cm<tspan dy="-9.5" dx="0.8" font-size="9.5">3</tspan><tspan dy="9.5" dx="0.8">/s)</tspan></text>
<text transform="translate(274.1,253) rotate(-90)" font-size="15.2" textLength="167.8" lengthAdjust="spacingAndGlyphs">Rate Coefficient (cm<tspan dy="-9.5" dx="0.8" font-size="9.5">3</tspan><tspan dy="9.5" dx="0.8">/s)</tspan></text>
<text x="70.5" y="26.5" font-size="13" textLength="58.5" lengthAdjust="spacingAndGlyphs">v′= 0, Σ j′</text>
<text x="327.2" y="24.3" font-size="13" textLength="58.5" lengthAdjust="spacingAndGlyphs">v′= 1, Σ j′</text>
<text x="67.7" y="203.2" font-size="13" textLength="58.5" lengthAdjust="spacingAndGlyphs">v′= 2, Σ j′</text>
<text x="327" y="199.3" font-size="13" textLength="58.5" lengthAdjust="spacingAndGlyphs">v′= 3, Σ j′</text>
<text x="223" y="19.8" font-size="14" textLength="15.3" lengthAdjust="spacingAndGlyphs">(a)</text>
<text x="480.2" y="17.6" font-size="14" textLength="16.3" lengthAdjust="spacingAndGlyphs">(b)</text>
<text x="222.8" y="188.6" font-size="14" textLength="15" lengthAdjust="spacingAndGlyphs">(c)</text>
<text x="485.1" y="189.2" font-size="14" textLength="15.8" lengthAdjust="spacingAndGlyphs">(d)</text>
</svg></body></html>
